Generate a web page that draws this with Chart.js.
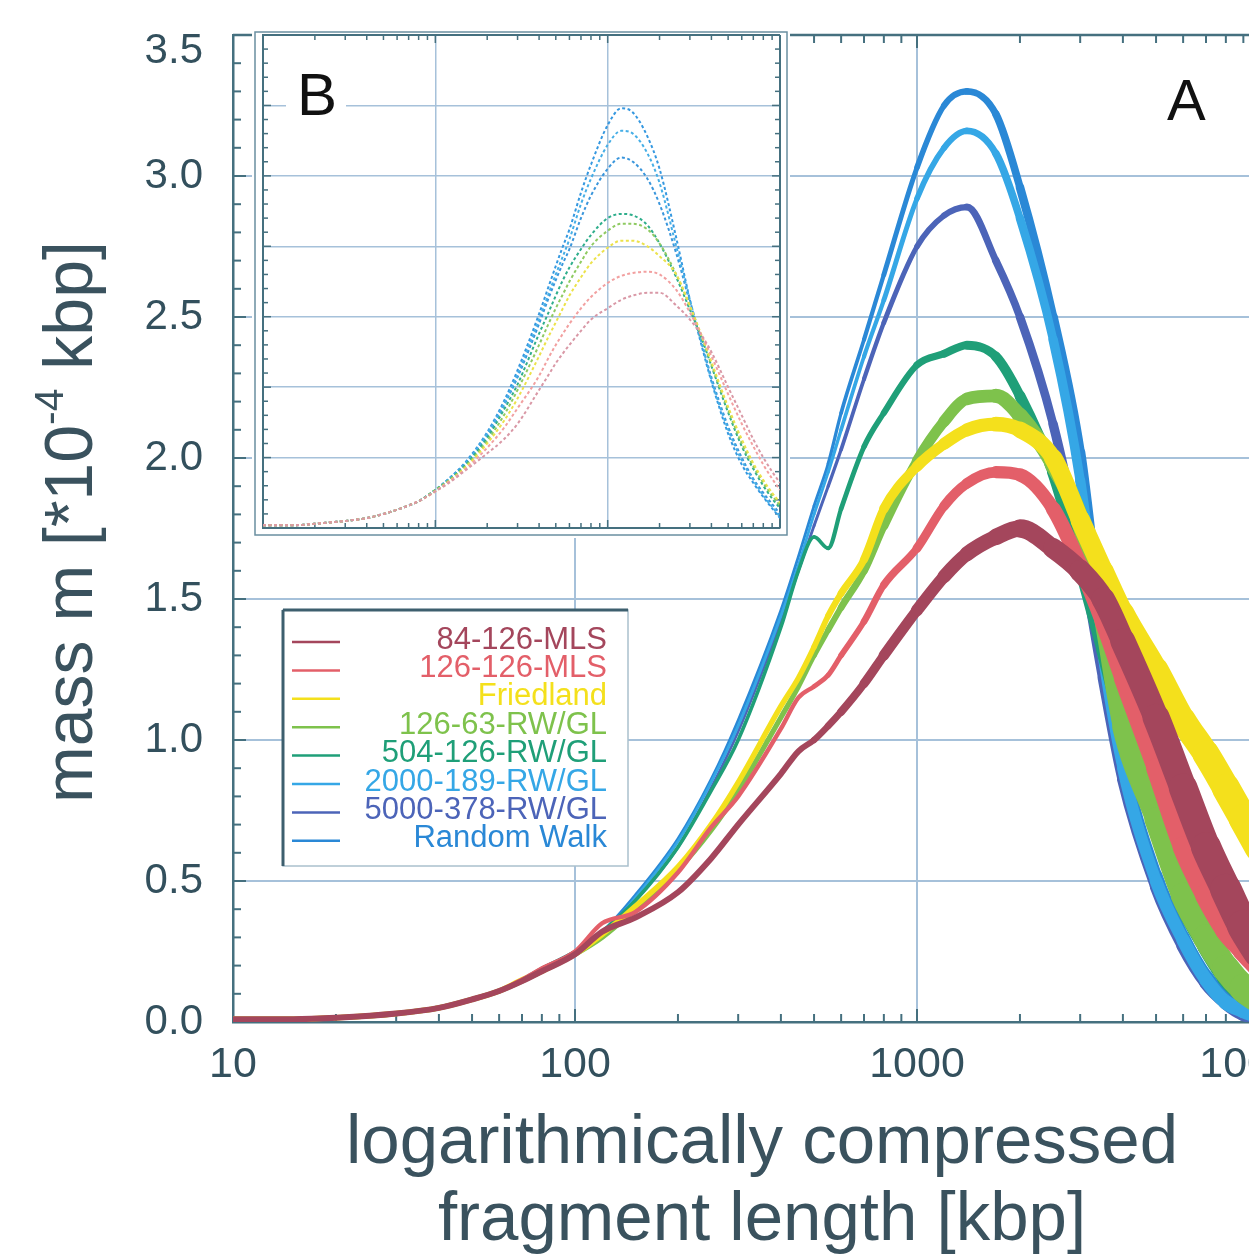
<!DOCTYPE html>
<html>
<head>
<meta charset="utf-8">
<script src="https://cdn.jsdelivr.net/npm/chart.js@4.4.1/dist/chart.umd.min.js"></script>
<style>
  html, body { margin: 0; padding: 0; background: #fff; overflow: hidden; }
  #wrap { position: relative; width: 1249px; height: 1258px; overflow: hidden; background: #fff; }
  #main { position: absolute; left: 0; top: 0; }
  #inset { position: absolute; left: 250px; top: 28px; }
</style>
</head>
<body>
<div id="wrap">
  <canvas id="main" width="1340" height="1258"></canvas>
  <canvas id="inset" width="545" height="515"></canvas>
</div>
<script>
// fragment length [kbp], shared by all curves
const xs = [10, 15, 20, 30, 40, 50, 60, 70, 80, 100, 120, 150, 200, 250, 300, 400, 450, 500, 550, 600,
  700, 800, 1000, 1200, 1400, 1700, 2000, 2500, 3000, 3500, 4000, 5000, 6000, 7000, 8000, 9000, 10000];

const seriesNames = ["84-126-MLS", "126-126-MLS", "Friedland", "126-63-RW/GL", "504-126-RW/GL",
  "2000-189-RW/GL", "5000-378-RW/GL", "Random Walk"];

// panel A (raw curves), mass m [*10^-4 kbp]
const mls84 = [0.01, 0.01, 0.015, 0.03, 0.05, 0.08, 0.11, 0.145, 0.18, 0.24, 0.32, 0.37, 0.46, 0.58, 0.70, 0.88, 0.96, 1.00, 1.05, 1.10,
  1.20, 1.30, 1.46, 1.58, 1.66, 1.72, 1.75, 1.68, 1.60, 1.50, 1.35, 1.08, 0.83, 0.62, 0.47, 0.34, 0.25];
const mls126 = [0.01, 0.01, 0.015, 0.03, 0.05, 0.08, 0.11, 0.15, 0.19, 0.25, 0.35, 0.39, 0.53, 0.69, 0.80, 1.04, 1.15, 1.19, 1.23, 1.30,
  1.42, 1.55, 1.68, 1.83, 1.91, 1.95, 1.94, 1.82, 1.62, 1.42, 1.22, 0.90, 0.62, 0.45, 0.33, 0.26, 0.20];
const friedland = [0.01, 0.01, 0.015, 0.03, 0.05, 0.08, 0.11, 0.15, 0.18, 0.24, 0.31, 0.41, 0.55, 0.70, 0.85, 1.12, 1.22, 1.33, 1.44, 1.52,
  1.64, 1.82, 1.97, 2.05, 2.10, 2.12, 2.10, 2.00, 1.78, 1.60, 1.45, 1.25, 1.07, 0.95, 0.83, 0.72, 0.62];
const rw63 = [0.01, 0.01, 0.015, 0.03, 0.05, 0.08, 0.11, 0.145, 0.18, 0.24, 0.30, 0.40, 0.54, 0.68, 0.82, 1.08, 1.19, 1.30, 1.39, 1.47,
  1.60, 1.76, 1.99, 2.13, 2.21, 2.22, 2.15, 1.98, 1.78, 1.45, 1.05, 0.72, 0.45, 0.30, 0.19, 0.12, 0.08];
const rw504 = [0.01, 0.01, 0.015, 0.03, 0.05, 0.08, 0.11, 0.15, 0.19, 0.25, 0.32, 0.43, 0.62, 0.82, 1.00, 1.40, 1.60, 1.72, 1.68, 1.82,
  2.04, 2.16, 2.33, 2.37, 2.40, 2.36, 2.22, 1.95, 1.62, 1.32, 1.05, 0.70, 0.42, 0.27, 0.16, 0.10, 0.07];
const rw2000 = [0.01, 0.01, 0.015, 0.03, 0.05, 0.08, 0.11, 0.15, 0.19, 0.25, 0.31, 0.44, 0.64, 0.85, 1.05, 1.44, 1.62, 1.80, 1.95, 2.10,
  2.36, 2.56, 2.92, 3.10, 3.16, 3.08, 2.85, 2.42, 1.92, 1.30, 0.90, 0.50, 0.29, 0.15, 0.07, 0.04, 0.02];
const rw5000 = [0.01, 0.01, 0.015, 0.03, 0.05, 0.08, 0.11, 0.15, 0.19, 0.25, 0.31, 0.43, 0.62, 0.83, 1.03, 1.42, 1.60, 1.76, 1.90, 2.03,
  2.28, 2.48, 2.75, 2.86, 2.89, 2.70, 2.50, 2.12, 1.68, 1.22, 0.86, 0.48, 0.27, 0.14, 0.07, 0.03, 0.02];
const randomWalk = [0.01, 0.01, 0.015, 0.03, 0.05, 0.08, 0.11, 0.15, 0.19, 0.25, 0.32, 0.45, 0.65, 0.86, 1.07, 1.46, 1.65, 1.83, 1.98, 2.16,
  2.42, 2.65, 3.03, 3.25, 3.30, 3.22, 2.96, 2.50, 2.02, 1.36, 0.93, 0.52, 0.30, 0.16, 0.08, 0.04, 0.02];

// panel B (smoothed curves)
const insetMls84 = [0.02, 0.02, 0.03, 0.05, 0.07, 0.10, 0.13, 0.16, 0.19, 0.26, 0.32, 0.41, 0.53, 0.63, 0.74, 0.98, 1.08, 1.17, 1.24, 1.30,
  1.40, 1.48, 1.56, 1.62, 1.65, 1.67, 1.67, 1.58, 1.48, 1.37, 1.25, 1.00, 0.80, 0.63, 0.50, 0.40, 0.32];
const insetMls126 = [0.02, 0.02, 0.03, 0.05, 0.07, 0.10, 0.13, 0.16, 0.19, 0.26, 0.33, 0.42, 0.57, 0.71, 0.85, 1.08, 1.20, 1.30, 1.38, 1.45,
  1.56, 1.64, 1.74, 1.79, 1.81, 1.82, 1.80, 1.69, 1.53, 1.37, 1.22, 0.95, 0.74, 0.58, 0.45, 0.35, 0.27];
const insetFriedland = [0.02, 0.02, 0.03, 0.05, 0.07, 0.10, 0.13, 0.16, 0.19, 0.26, 0.33, 0.43, 0.60, 0.76, 0.92, 1.22, 1.35, 1.46, 1.56, 1.65,
  1.78, 1.88, 1.99, 2.04, 2.04, 2.00, 1.93, 1.80, 1.58, 1.37, 1.18, 0.86, 0.63, 0.46, 0.34, 0.25, 0.18];
const insetRw63 = [0.02, 0.02, 0.03, 0.05, 0.07, 0.10, 0.13, 0.16, 0.19, 0.27, 0.34, 0.44, 0.62, 0.80, 0.98, 1.30, 1.44, 1.56, 1.66, 1.75,
  1.89, 2.00, 2.11, 2.16, 2.16, 2.12, 2.02, 1.80, 1.57, 1.36, 1.16, 0.84, 0.60, 0.44, 0.32, 0.23, 0.16];
const insetRw504 = [0.02, 0.02, 0.03, 0.05, 0.07, 0.10, 0.13, 0.16, 0.19, 0.27, 0.34, 0.45, 0.64, 0.84, 1.02, 1.38, 1.52, 1.65, 1.76, 1.85,
  1.98, 2.08, 2.20, 2.23, 2.22, 2.15, 2.02, 1.78, 1.55, 1.35, 1.15, 0.82, 0.58, 0.42, 0.30, 0.21, 0.14];
const insetRw2000 = [0.02, 0.02, 0.03, 0.05, 0.07, 0.10, 0.13, 0.16, 0.19, 0.27, 0.35, 0.46, 0.67, 0.88, 1.09, 1.48, 1.65, 1.80, 1.93, 2.05,
  2.30, 2.48, 2.72, 2.82, 2.80, 2.66, 2.45, 2.00, 1.62, 1.32, 1.05, 0.70, 0.48, 0.34, 0.23, 0.15, 0.08];
const insetRw5000 = [0.02, 0.02, 0.03, 0.05, 0.07, 0.10, 0.13, 0.16, 0.19, 0.27, 0.35, 0.46, 0.66, 0.87, 1.07, 1.45, 1.62, 1.76, 1.88, 1.98,
  2.20, 2.36, 2.55, 2.63, 2.60, 2.48, 2.30, 1.95, 1.60, 1.32, 1.07, 0.72, 0.50, 0.35, 0.25, 0.17, 0.10];
const insetRandomWalk = [0.02, 0.02, 0.03, 0.05, 0.07, 0.10, 0.13, 0.16, 0.19, 0.27, 0.35, 0.47, 0.68, 0.90, 1.12, 1.52, 1.70, 1.86, 2.00, 2.12,
  2.38, 2.58, 2.86, 2.98, 2.95, 2.78, 2.55, 2.06, 1.62, 1.30, 1.04, 0.67, 0.45, 0.32, 0.22, 0.14, 0.07];

const xTickValues = [10, 100, 1000, 10000];
const yTickValues = [0, 0.5, 1.0, 1.5, 2.0, 2.5, 3.0, 3.5];

// looks
const font = "'Liberation Sans', Arial, Helvetica, sans-serif";
const axisColor = "#45707f";
const gridColor = "#a6c1da";
const tickColor = "#33505d";
const titleColor = "#3a525e";
const mainColors = ["#a4465c", "#e35f69", "#f4e01c", "#7ec24c", "#1f9f78", "#35a7e6", "#4c64b8", "#2a88d6"];
const bandScale = [1.5, 1.1, 1.35, 1.3, 0.9, 0.7, 0.7, 0.7];
const insetColors = ["#d998a6", "#f2a0a0", "#ece24a", "#8fca62", "#2fae8c", "#45aee6", "#3a96dc", "#3598e0"];
const none = "rgba(0,0,0,0)";

function points(vals) {
  return xs.map((x, i) => ({ x: x, y: vals[i] }));
}

// noisy curves get wider bands towards large fragments
function bandWidth(x, k) {
  const lx = Math.log10(x);
  let w = 4;
  if (lx > 2.7 && lx <= 3.2) w = 4 + (lx - 2.7) * 12;
  else if (lx > 3.2) w = 10 + (lx - 3.2) * 15;
  return w * k;
}

function line(ctx, x1, y1, x2, y2) {
  ctx.beginPath();
  ctx.moveTo(x1, y1);
  ctx.lineTo(x2, y2);
  ctx.stroke();
}

function drawMinorTicks(ctx, chart, lenMinor, lenMajor, bothY) {
  const a = chart.chartArea;
  const x = chart.scales.x;
  const y = chart.scales.y;
  [10, 100, 1000].forEach((dec) => {
    for (let m = 1; m <= 9; m++) {
      const v = dec * m;
      if (v === 10) continue;
      const px = x.getPixelForValue(v);
      if (px >= a.right) continue;
      const len = m === 1 ? lenMajor : lenMinor;
      line(ctx, px, a.bottom, px, a.bottom - len);
      line(ctx, px, a.top, px, a.top + len);
    }
  });
  for (let k = 1; k < 35; k++) {
    const py = y.getPixelForValue(k / 10);
    const len = k % 5 === 0 ? lenMajor : lenMinor;
    line(ctx, a.left, py, a.left + len, py);
    if (bothY) line(ctx, a.right, py, a.right - len, py);
  }
}

const mainDecor = {
  id: "mainDecor",
  beforeDatasetsDraw(chart) {
    const ctx = chart.ctx;
    const a = chart.chartArea;
    ctx.save();
    ctx.strokeStyle = axisColor;
    ctx.lineWidth = 2.5;
    line(ctx, a.left, a.top, a.right, a.top);
    ctx.lineWidth = 2;
    drawMinorTicks(ctx, chart, 8, 13, false);
    ctx.restore();
  },
  afterDatasetsDraw(chart) {
    const ctx = chart.ctx;
    ctx.save();

    // top y label sits a bit lower than its grid line
    ctx.fillStyle = tickColor;
    ctx.font = "42px " + font;
    ctx.textAlign = "right";
    ctx.textBaseline = "middle";
    ctx.fillText("3.5", 203, 51);

    // legend
    const box = { left: 283, top: 610, right: 628, bottom: 866 };
    ctx.fillStyle = "#ffffff";
    ctx.fillRect(box.left, box.top, box.right - box.left, box.bottom - box.top);
    ctx.strokeStyle = "#aac0cd";
    ctx.lineWidth = 1.5;
    ctx.strokeRect(box.left, box.top, box.right - box.left, box.bottom - box.top);
    ctx.strokeStyle = "#3d5f6e";
    ctx.lineWidth = 3;
    line(ctx, box.left, box.top, box.right, box.top);
    line(ctx, box.left, box.top, box.left, box.bottom);
    ctx.font = "31px " + font;
    ctx.textAlign = "right";
    ctx.textBaseline = "middle";
    chart.data.datasets.forEach((ds, i) => {
      const yy = 640 + i * 28.4;
      ctx.strokeStyle = ds.borderColor;
      ctx.lineWidth = 2.5;
      line(ctx, 292, yy + 2, 340, yy + 2);
      ctx.fillStyle = ds.borderColor;
      ctx.fillText(ds.label, 607, yy);
    });

    // panel letter
    ctx.fillStyle = "#111";
    ctx.font = "58px " + font;
    ctx.textAlign = "left";
    ctx.textBaseline = "alphabetic";
    ctx.fillText("A", 1167, 120);

    // x title (two lines)
    ctx.fillStyle = titleColor;
    ctx.font = "69px " + font;
    ctx.textAlign = "center";
    ctx.fillText("logarithmically compressed", 762, 1163);
    ctx.fillText("fragment length [kbp]", 762, 1240);

    // y title with superscript
    ctx.translate(92, 522);
    ctx.rotate(-Math.PI / 2);
    const parts = [["mass m [*10", "68px " + font, 0], ["-4", "41px " + font, -29], [" kbp]", "68px " + font, 0]];
    let total = 0;
    parts.forEach((p) => { ctx.font = p[1]; total += ctx.measureText(p[0]).width; });
    let cx = -total / 2;
    ctx.textAlign = "left";
    parts.forEach((p) => {
      ctx.font = p[1];
      ctx.fillText(p[0], cx, p[2]);
      cx += ctx.measureText(p[0]).width;
    });
    ctx.restore();
  }
};

const insetDecor = {
  id: "insetDecor",
  beforeDraw(chart) {
    const ctx = chart.ctx;
    ctx.save();
    ctx.fillStyle = "#ffffff";
    ctx.fillRect(2, 2, 538, 508);
    ctx.strokeStyle = "#6a8fa0";
    ctx.lineWidth = 1.5;
    ctx.strokeRect(5, 4, 532, 503);
    ctx.restore();
  },
  beforeDatasetsDraw(chart) {
    const ctx = chart.ctx;
    const a = chart.chartArea;
    ctx.save();
    ctx.strokeStyle = axisColor;
    ctx.lineWidth = 2;
    line(ctx, a.left, a.top, a.right, a.top);
    line(ctx, a.right, a.top, a.right, a.bottom);
    ctx.lineWidth = 1.5;
    drawMinorTicks(ctx, chart, 5, 8, true);
    // panel letter on a white patch
    ctx.fillStyle = "#ffffff";
    ctx.fillRect(36, 40, 60, 60);
    ctx.fillStyle = "#111";
    ctx.font = "60px " + font;
    ctx.fillText("B", 47, 87);
    ctx.restore();
  }
};

const mainSeries = [mls84, mls126, friedland, rw63, rw504, rw2000, rw5000, randomWalk];
const insetSeries = [insetMls84, insetMls126, insetFriedland, insetRw63, insetRw504, insetRw2000, insetRw5000, insetRandomWalk];

new Chart(document.getElementById("main"), {
  type: "line",
  data: {
    datasets: mainSeries.map((vals, i) => ({
      label: seriesNames[i],
      data: points(vals),
      borderColor: mainColors[i],
      borderWidth: 4,
      borderCapStyle: "round",
      borderJoinStyle: "round",
      pointRadius: 0,
      fill: false,
      cubicInterpolationMode: "monotone",
      segment: {
        borderWidth: (c) => bandWidth(Math.sqrt(c.p0.parsed.x * c.p1.parsed.x), bandScale[i])
      }
    }))
  },
  options: {
    responsive: false,
    animation: false,
    events: [],
    layout: { padding: { top: 35, right: 81, left: 0, bottom: 0 } },
    plugins: { legend: { display: false }, tooltip: { enabled: false } },
    scales: {
      x: {
        type: "logarithmic",
        min: 10,
        max: 10000,
        afterBuildTicks: (s) => { s.ticks = xTickValues.map((v) => ({ value: v })); },
        afterFit: (s) => { s.height = 236; },
        grid: { color: (c) => (c.tick && c.tick.value > 10 ? gridColor : none), lineWidth: 2, drawTicks: false },
        border: { color: axisColor, width: 2.5 },
        ticks: {
          color: tickColor,
          font: { family: font, size: 43 },
          padding: 17,
          autoSkip: false,
          maxRotation: 0,
          callback: (v) => String(v)
        }
      },
      y: {
        type: "linear",
        min: 0,
        max: 3.5,
        afterBuildTicks: (s) => { s.ticks = yTickValues.map((v) => ({ value: v })); },
        afterFit: (s) => { s.width = 233; },
        grid: { color: (c) => (c.tick && c.tick.value > 0 ? gridColor : none), lineWidth: 2, drawTicks: false },
        border: { color: axisColor, width: 2.5 },
        ticks: {
          color: tickColor,
          font: { family: font, size: 42, lineHeight: 0.2 },
          padding: 30,
          callback: (v) => (v === 3.5 ? "" : v.toFixed(1))
        }
      }
    }
  },
  plugins: [mainDecor]
});

new Chart(document.getElementById("inset"), {
  type: "line",
  data: {
    datasets: insetSeries.map((vals, i) => ({
      label: seriesNames[i],
      data: points(vals),
      borderColor: insetColors[i],
      borderWidth: 2,
      borderDash: [3, 2.5],
      pointRadius: 0,
      fill: false,
      cubicInterpolationMode: "monotone"
    }))
  },
  options: {
    responsive: false,
    animation: false,
    events: [],
    layout: { padding: { left: 13, top: 7, right: 15, bottom: 15 } },
    plugins: { legend: { display: false }, tooltip: { enabled: false } },
    scales: {
      x: {
        type: "logarithmic",
        min: 10,
        max: 10000,
        afterBuildTicks: (s) => { s.ticks = xTickValues.map((v) => ({ value: v })); },
        afterFit: (s) => { s.height = 0; },
        grid: { color: (c) => (c.tick && c.tick.value > 10 && c.tick.value < 10000 ? gridColor : none), lineWidth: 1.5, drawTicks: false },
        border: { color: axisColor, width: 2 },
        ticks: { display: false }
      },
      y: {
        type: "linear",
        min: 0,
        max: 3.5,
        afterBuildTicks: (s) => { s.ticks = yTickValues.map((v) => ({ value: v })); },
        afterFit: (s) => { s.width = 0; },
        grid: { color: (c) => (c.tick && c.tick.value > 0 && c.tick.value < 3.5 ? gridColor : none), lineWidth: 1.5, drawTicks: false },
        border: { color: axisColor, width: 2 },
        ticks: { display: false }
      }
    }
  },
  plugins: [insetDecor]
});
</script>
</body>
</html>
